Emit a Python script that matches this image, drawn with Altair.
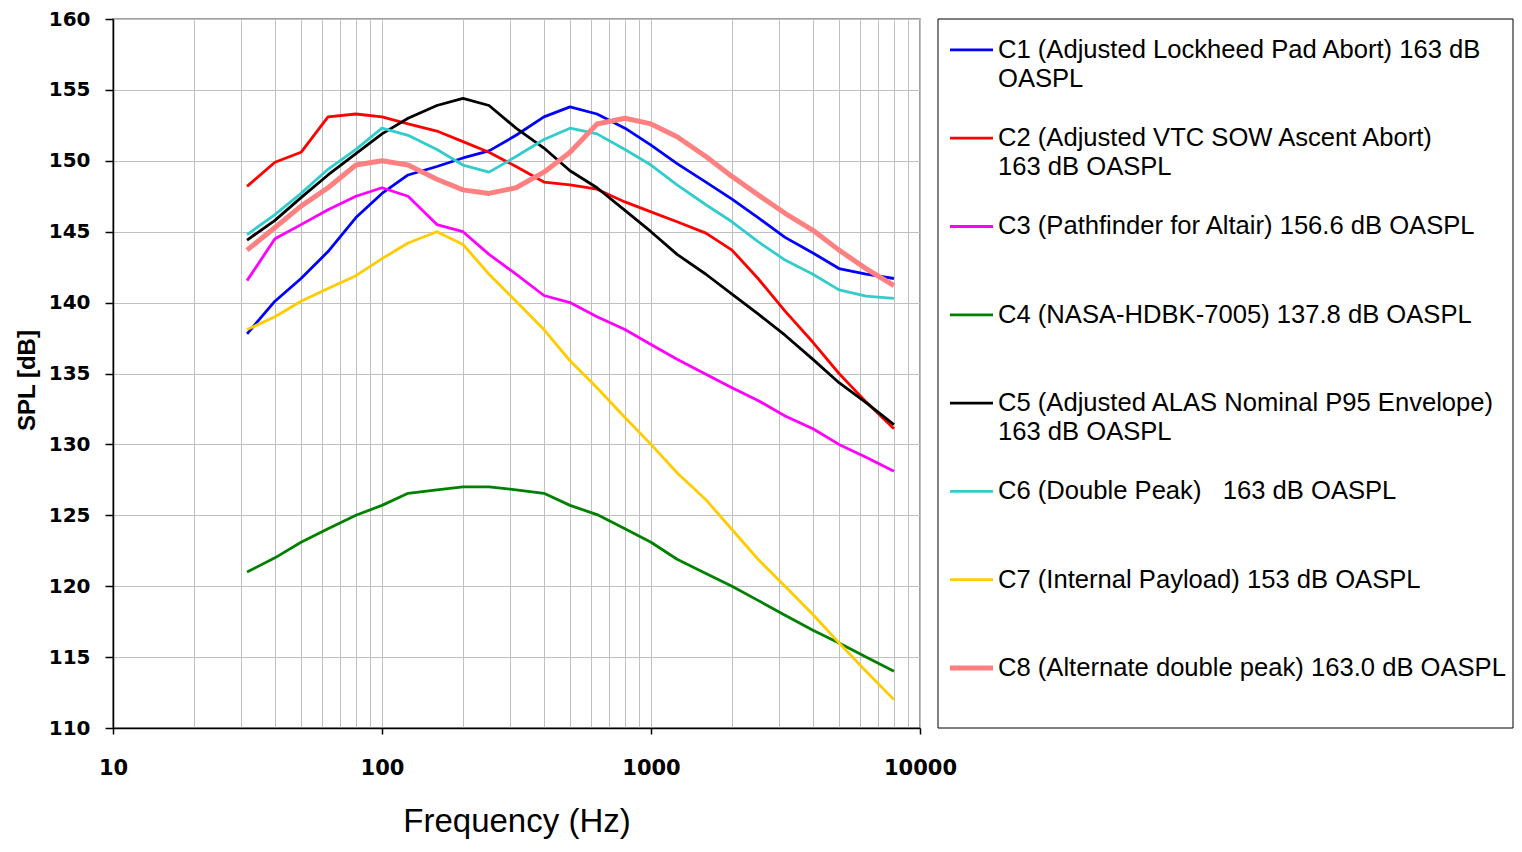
import altair as alt
import pandas as pd

freqs = [31.5, 40, 50, 63, 80, 100, 125, 160, 200, 250, 315, 400, 500, 630, 800,
         1000, 1250, 1600, 2000, 2500, 3150, 4000, 5000, 6300, 8000]

c1 = [137.8, 140.1, 141.7, 143.6, 146.0, 147.7, 149.0, 149.6, 150.2, 150.7, 151.8, 153.1, 153.8,
      153.3, 152.3, 151.1, 149.8, 148.5, 147.3, 146.0, 144.6, 143.5, 142.4, 142.0, 141.7]
c2 = [148.2, 149.9, 150.6, 153.1, 153.3, 153.1, 152.6, 152.1, 151.35, 150.6, 149.6, 148.5, 148.3,
      148.0, 147.1, 146.4, 145.7, 144.9, 143.7, 141.7, 139.4, 137.2, 135.0, 133.0, 131.1]
c3 = [141.55, 144.5, 145.5, 146.55, 147.5, 148.1, 147.5, 145.5, 145.0, 143.4, 142.0, 140.5, 140.0,
      139.0, 138.1, 137.05, 136.0, 134.95, 134.0, 133.1, 132.0, 131.1, 130.0, 129.1, 128.1]
c4 = [121.0, 122.0, 123.1, 124.05, 125.0, 125.7, 126.55, 126.8, 127.0, 127.0, 126.8, 126.55, 125.7,
      125.05, 124.05, 123.1, 121.9, 120.9, 120.0, 119.0, 117.95, 116.9, 116.0, 115.0, 114.0]
c5 = [144.4, 145.8, 147.4, 149.0, 150.5, 151.9, 153.0, 153.9, 154.4, 153.9, 152.3, 150.9, 149.3,
      148.1, 146.5, 145.0, 143.4, 142.0, 140.6, 139.2, 137.7, 136.0, 134.35, 132.95, 131.4]
c6 = [144.8, 146.2, 147.7, 149.4, 150.8, 152.3, 151.8, 150.8, 149.7, 149.2, 150.3, 151.5, 152.3,
      151.9, 150.8, 149.7, 148.3, 146.9, 145.7, 144.3, 143.0, 142.0, 140.9, 140.45, 140.3]
c7 = [138.1, 139.0, 140.1, 141.0, 141.9, 143.1, 144.2, 145.0, 144.1, 142.0, 140.1, 138.1, 135.9,
      134.0, 131.9, 130.0, 128.0, 126.1, 124.0, 121.9, 120.0, 118.0, 116.0, 114.0, 112.0]
c8 = [143.7, 145.3, 146.8, 148.1, 149.7, 150.0, 149.7, 148.7, 147.95, 147.7, 148.1, 149.2, 150.6,
      152.6, 153.0, 152.6, 151.7, 150.3, 148.9, 147.6, 146.3, 145.1, 143.7, 142.4, 141.2]

series_names = ["C1", "C2", "C3", "C4", "C5", "C6", "C7", "C8"]
series_values = [c1, c2, c3, c4, c5, c6, c7, c8]
series_colors = ["#0000FF", "#FF0000", "#FF00FF", "#008000", "#000000", "#33CCCC", "#FFCC00", "#FF8080"]

label_line1 = [
    "C1 (Adjusted Lockheed Pad Abort) 163 dB",
    "C2 (Adjusted VTC SOW Ascent Abort)",
    "C3 (Pathfinder for Altair) 156.6 dB OASPL",
    "C4 (NASA-HDBK-7005) 137.8 dB OASPL",
    "C5 (Adjusted ALAS Nominal P95 Envelope)",
    "C6 (Double Peak)\u00a0\u00a0\u00a0163 dB OASPL",
    "C7 (Internal Payload) 153 dB OASPL",
    "C8 (Alternate double peak) 163.0 dB OASPL",
]
label_line2 = ["OASPL", "163 dB OASPL", "", "", "163 dB OASPL", "", "", ""]

x_grid_values = [10, 20, 30, 40, 50, 60, 70, 80, 90,
                 100, 200, 300, 400, 500, 600, 700, 800, 900,
                 1000, 2000, 3000, 4000, 5000, 6000, 7000, 8000, 9000, 10000]
y_tick_values = [110, 115, 120, 125, 130, 135, 140, 145, 150, 155, 160]

rows = []
for name, vals in zip(series_names, series_values):
    for f, v in zip(freqs, vals):
        rows.append({"series": name, "freq": f, "spl": v})
df = pd.DataFrame(rows)

leg_df = pd.DataFrame({
    "series": series_names,
    "idx": list(range(len(series_names))),
    "line1": label_line1,
    "line2": label_line2,
})
box_df = pd.DataFrame({"k": [0]})

PLOT_H = 709
color_scale = alt.Scale(domain=series_names, range=series_colors)
thick = alt.condition("datum.series === 'C8'", alt.value(5), alt.value(2.8))
decade_test = "indexof([10,100,1000,10000], datum.value) >= 0"

lines = alt.Chart(df).mark_line(strokeJoin="round").encode(
    x=alt.X("freq:Q",
            scale=alt.Scale(type="log", domain=[10, 10000], nice=False),
            axis=alt.Axis(values=x_grid_values, format="d",
                          labelExpr=f"{decade_test} ? datum.label : ''",
                          grid=True, gridColor="#c0c0c0", gridWidth=1,
                          domainColor="black", domainWidth=1.5,
                          tickColor="black", tickSize=6, tickWidth=1.5,
                          tickOpacity={"condition": {"test": decade_test, "value": 1}, "value": 0},
                          labelFont="DejaVu Sans", labelFontWeight="bold", labelFontSize=21,
                          labelColor="black", labelPadding=23, labelOverlap=False, labelFlush=False,
                          title="Frequency (Hz)", titleFont="Liberation Sans", titleFontSize=33,
                          titleFontWeight="normal", titleColor="black", titlePadding=27)),
    y=alt.Y("spl:Q",
            scale=alt.Scale(domain=[110, 160], nice=False, zero=False),
            axis=alt.Axis(values=y_tick_values, grid=True, gridColor="#c0c0c0", gridWidth=1,
                          domainColor="black", domainWidth=1.5,
                          tickColor="black", tickSize=8, tickWidth=1.5,
                          labelFont="DejaVu Sans", labelFontWeight="bold", labelFontSize=20,
                          labelColor="black", labelPadding=15, labelFlush=False,
                          title="SPL [dB]", titleFont="Liberation Sans", titleFontSize=24,
                          titleFontWeight="bold", titleColor="black", titlePadding=9,
                          titleY=361)),
    color=alt.Color("series:N", scale=color_scale, legend=None),
    strokeWidth=thick,
    detail="series:N",
)

leg_y = alt.Y("idx:Q", scale=alt.Scale(domain=[-0.35, 7.68], reverse=True, nice=False, zero=False),
              axis=None)

leg_rules = alt.Chart(leg_df).mark_rule().encode(
    x=alt.value(837), x2=alt.value(880), y=leg_y,
    color=alt.Color("series:N", scale=color_scale, legend=None),
    strokeWidth=thick,
)
leg_text1 = alt.Chart(leg_df).mark_text(
    align="left", baseline="middle", font="Liberation Sans", fontSize=25.6, color="black"
).encode(x=alt.value(885), y=leg_y, text="line1:N")
leg_text2 = alt.Chart(leg_df).mark_text(
    align="left", baseline="middle", font="Liberation Sans", fontSize=25.6, color="black", dy=29
).encode(x=alt.value(885), y=leg_y, text="line2:N")

leg_box = alt.Chart(box_df).mark_rect(fill="white", stroke="black", strokeWidth=1).encode(
    x=alt.value(825), x2=alt.value(1400), y=alt.value(0), y2=alt.value(PLOT_H)
)

chart = alt.layer(lines, leg_box, leg_rules, leg_text1, leg_text2).resolve_scale(
    y="independent"
).properties(
    width=807, height=PLOT_H,
    autosize=alt.AutoSizeParams(type="none"),
    padding={"left": 105, "top": 11, "right": 594, "bottom": 112},
    background="white",
).configure_view(stroke="#808080", strokeWidth=1.5)

chart.save("out.html", embed_options={"renderer": "svg", "actions": False})
